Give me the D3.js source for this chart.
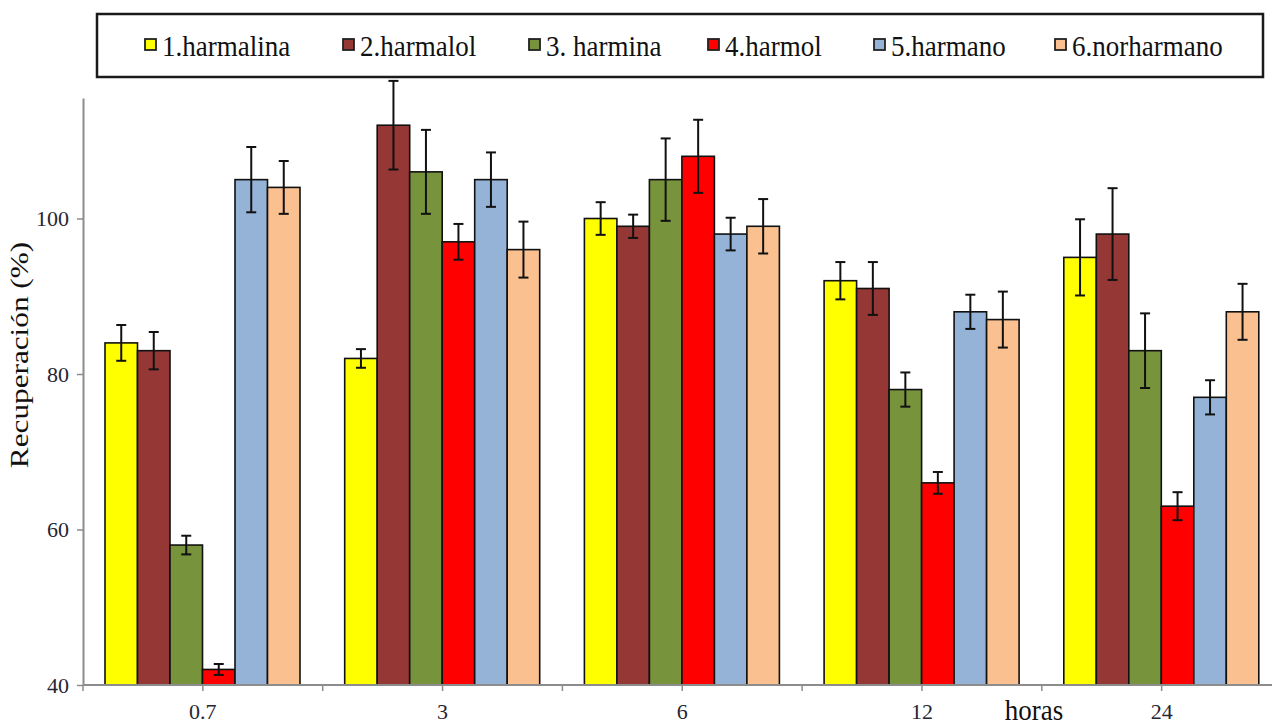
<!DOCTYPE html>
<html>
<head>
<meta charset="utf-8">
<script src="https://cdn.jsdelivr.net/npm/d3@7/dist/d3.min.js"></script>
<style>
  html, body { margin: 0; padding: 0; background: #fff; }
  svg { display: block; }
</style>
</head>
<body>
<svg id="chart" width="1272" height="726"></svg>
<script>
// Recovery (%) of six beta-carboline alkaloids over time (hours)
const times = ["0.7", "3", "6", "12", "24"];
const compounds = ["1.harmalina", "2.harmalol", "3. harmina", "4.harmol", "5.harmano", "6.norharmano"];
const colors = ["#FFFF00", "#953735", "#77933C", "#FF0000", "#95B3D7", "#FAC090"];

// mean recovery per compound, one entry per time point
const harmalina   = [84, 82, 100, 92, 95];
const harmalol    = [83, 112, 99, 91, 98];
const harmina     = [58, 106, 105, 78, 83];
const harmol      = [42, 97, 108, 66, 63];
const harmano     = [105, 105, 98, 88, 77];
const norharmano  = [104, 96, 99, 87, 88];

// standard deviations (error bar half-lengths)
const harmalinaSd  = [2.3, 1.2, 2.1, 2.4, 4.9];
const harmalolSd   = [2.4, 5.7, 1.5, 3.4, 5.9];
const harminaSd    = [1.2, 5.4, 5.3, 2.2, 4.8];
const harmolSd     = [0.7, 2.3, 4.7, 1.4, 1.8];
const harmanoSd    = [4.2, 3.5, 2.1, 2.2, 2.2];
const norharmanoSd = [3.4, 3.6, 3.5, 3.6, 3.6];

const yTicks = [40, 60, 80, 100];

const means = [harmalina, harmalol, harmina, harmol, harmano, norharmano];
const sds = [harmalinaSd, harmalolSd, harminaSd, harmolSd, harmanoSd, norharmanoSd];

const rows = [];
compounds.forEach((c, si) => {
  times.forEach((t, ti) => {
    rows.push({ time: t, compound: c, si, value: means[si][ti], sd: sds[si][ti] });
  });
});

const svg = d3.select("#chart");
const serif = "'Liberation Serif', 'Times New Roman', serif";

const plotLeft = 83, plotBottom = 685, plotTop = 98;
const bandW = 239.7;

const x = d3.scaleBand().domain(times).range([plotLeft, plotLeft + bandW * times.length]).padding(0);
const xInner = d3.scaleBand().domain(compounds).range([22, 217]).padding(0);
const y = d3.scaleLinear().domain([40, 115.5]).range([plotBottom, plotTop]);

const barX = d => x(d.time) + xInner(d.compound);
const barMid = d => barX(d) + xInner.bandwidth() / 2;

// bars
const g = svg.append("g");
g.selectAll("rect.bar")
  .data(rows)
  .join("rect")
  .attr("class", "bar")
  .attr("x", barX)
  .attr("y", d => y(d.value))
  .attr("width", xInner.bandwidth())
  .attr("height", d => y(40) - y(d.value))
  .attr("fill", d => colors[d.si])
  .attr("stroke", "#111")
  .attr("stroke-width", 1.6);

// error bars
const cap = 5;
const eb = g.selectAll("g.err").data(rows).join("g").attr("class", "err")
  .attr("stroke", "#111").attr("stroke-width", 2);
eb.append("line")
  .attr("x1", barMid).attr("x2", barMid)
  .attr("y1", d => y(d.value + d.sd))
  .attr("y2", d => y(d.value - d.sd));
eb.append("line")
  .attr("x1", d => barMid(d) - cap).attr("x2", d => barMid(d) + cap)
  .attr("y1", d => y(d.value + d.sd))
  .attr("y2", d => y(d.value + d.sd));
eb.append("line")
  .attr("x1", d => barMid(d) - cap).attr("x2", d => barMid(d) + cap)
  .attr("y1", d => y(d.value - d.sd))
  .attr("y2", d => y(d.value - d.sd));

// y axis
const yAxis = svg.append("g")
  .attr("transform", `translate(${plotLeft},0)`)
  .call(d3.axisLeft(y).tickValues(yTicks).tickSize(6).tickPadding(8).tickSizeOuter(0));
yAxis.select(".domain").attr("stroke", "#8c8c8c").attr("stroke-width", 2);
yAxis.selectAll(".tick line").attr("stroke", "#8c8c8c").attr("stroke-width", 1.5);
yAxis.selectAll(".tick text")
  .style("font-family", serif)
  .style("font-size", "22px")
  .attr("fill", "#262633");

// x axis: ticks at every half band (group boundaries and centres)
const halfTicks = d3.range(0, times.length * 2).map(i => plotLeft + i * bandW / 2);
const xAxisG = svg.append("g");
xAxisG.append("line")
  .attr("x1", plotLeft).attr("x2", 1272)
  .attr("y1", plotBottom).attr("y2", plotBottom)
  .attr("stroke", "#8c8c8c").attr("stroke-width", 2);
xAxisG.selectAll("line.tk").data(halfTicks).join("line")
  .attr("class", "tk")
  .attr("x1", d => d).attr("x2", d => d)
  .attr("y1", plotBottom).attr("y2", plotBottom + 6)
  .attr("stroke", "#8c8c8c").attr("stroke-width", 1.5);
xAxisG.selectAll("text.tl").data(times).join("text")
  .attr("class", "tl")
  .attr("x", d => x(d) + x.bandwidth() / 2)
  .attr("y", 719)
  .attr("text-anchor", "middle")
  .style("font-family", serif)
  .style("font-size", "22px")
  .attr("fill", "#262633")
  .text(d => d);

// axis titles
svg.append("text")
  .attr("transform", "translate(1034,720) scale(1,1.12)")
  .attr("text-anchor", "middle")
  .style("font-family", serif)
  .style("font-size", "27px")
  .attr("fill", "#111")
  .text("horas");

svg.append("text")
  .attr("transform", "translate(28,355) rotate(-90) scale(1.25,1)")
  .attr("text-anchor", "middle")
  .style("font-family", serif)
  .style("font-size", "25px")
  .attr("fill", "#111")
  .text("Recuperación (%)");

// legend
const legend = svg.append("g");
legend.append("rect")
  .attr("x", 97).attr("y", 14)
  .attr("width", 1166).attr("height", 63)
  .attr("fill", "#fff")
  .attr("stroke", "#1a1a1a")
  .attr("stroke-width", 2.5);
const legendX = [145, 343, 529, 708, 874, 1055];
const li = legend.selectAll("g.li").data(compounds).join("g")
  .attr("class", "li")
  .attr("transform", (d, i) => `translate(${legendX[i]},0)`);
li.append("rect")
  .attr("x", 0).attr("y", 39)
  .attr("width", 11).attr("height", 11)
  .attr("fill", (d, i) => colors[i])
  .attr("stroke", "#222").attr("stroke-width", 1.8);
li.append("text")
  .attr("transform", "translate(17,56) scale(1,1.1)")
  .style("font-family", serif)
  .style("font-size", "27px")
  .attr("fill", "#111")
  .text(d => d);
</script>
</body>
</html>
